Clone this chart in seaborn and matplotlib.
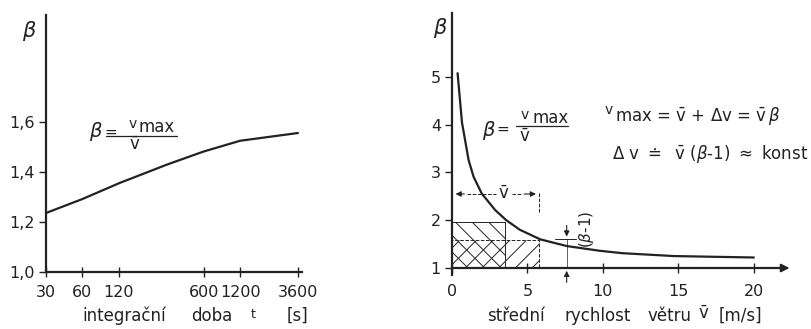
import matplotlib
matplotlib.use("Agg")
import matplotlib.pyplot as plt
import seaborn as sns
from matplotlib.patches import Rectangle
from matplotlib.lines import Line2D
from matplotlib.ticker import FixedLocator, NullLocator

# left panel: gust factor beta vs. integration time t [s]
t_s = [30, 60, 120, 300, 600, 1200, 3600]
beta_t = [1.236, 1.292, 1.355, 1.43, 1.482, 1.525, 1.556]
t_ticks = [30, 60, 120, 600, 1200, 3600]
beta_ticks_left = [1.0, 1.2, 1.4, 1.6]
beta_labels_left = ["1,0", "1,2", "1,4", "1,6"]

# right panel: beta vs. mean wind speed v [m/s]
v_mean = [0.37, 0.66, 1.1, 1.43, 1.97, 2.87, 3.6, 4.5, 5.85, 7.6, 9.8, 11.3, 14.7, 20.0]
beta_v = [5.08, 4.05, 3.26, 2.91, 2.56, 2.21, 2.0, 1.80, 1.6, 1.46, 1.36, 1.31, 1.25, 1.22]
v_ticks = [0, 5, 10, 15, 20]
beta_ticks_right = [1, 2, 3, 4, 5]

# hatched areas: v*beta (tall) and v (wide) for an example speed
rect_tall = (3.48, 1.97)
rect_wide = (5.78, 1.58)

INK = "#222222"
W, H = 812, 329


def fx(px):
    return px / W


def fy(py):
    return 1 - py / H


def ftext(fig, px, py, s, **kw):
    kw.setdefault("ha", "center")
    kw.setdefault("va", "center")
    kw.setdefault("color", INK)
    fig.text(fx(px), fy(py), s, **kw)


def fline(fig, p0, p1, lw=0.9):
    fig.add_artist(Line2D([fx(p0[0]), fx(p1[0])], [fy(p0[1]), fy(p1[1])],
                          transform=fig.transFigure, color=INK, lw=lw))


def style_axes(ax):
    for side in ["top", "right"]:
        ax.spines[side].set_visible(False)
    for side in ["left", "bottom"]:
        ax.spines[side].set_linewidth(1.6)
        ax.spines[side].set_color(INK)
    ax.tick_params(axis="y", direction="out", length=5, width=1, pad=3,
                   labelsize=11.5, colors=INK)
    ax.tick_params(axis="x", direction="inout", length=7, width=1, pad=6,
                   labelsize=11.5, colors=INK)
    ax.set_xlabel("")
    ax.set_ylabel("")


sns.set_theme(style="ticks")
plt.rcParams["font.family"] = ["DejaVu Sans"]
plt.rcParams["mathtext.fontset"] = "dejavusans"
plt.rcParams["hatch.linewidth"] = 0.7

fig = plt.figure(figsize=(W / 100, H / 100), dpi=100)
fig.patch.set_facecolor("white")

# ---- left panel ----
axL = fig.add_axes([fx(46), fy(272), (302 - 46) / W, (272 - 15) / H])
axL.set_facecolor("white")
sns.lineplot(x=t_s, y=beta_t, ax=axL, color=INK, lw=1.6)
axL.set_xscale("log")
axL.set_xlim(30, 3885)
axL.set_ylim(1.0, 2.028)
axL.xaxis.set_major_locator(FixedLocator(t_ticks))
axL.xaxis.set_minor_locator(NullLocator())
axL.set_xticklabels([str(t) for t in t_ticks])
axL.set_yticks(beta_ticks_left)
axL.set_yticklabels(beta_labels_left)
style_axes(axL)

ftext(fig, 29, 31, r"$\beta$", fontsize=15)
ftext(fig, 96, 131, r"$\beta$", fontsize=14)
ftext(fig, 111, 132, "=", fontsize=11)
ftext(fig, 133, 124, "v", fontsize=10)
ftext(fig, 157, 127, "max", fontsize=12)
fline(fig, (106, 136), (177, 136))
ftext(fig, 135, 145, r"$\bar{\mathrm{v}}$", fontsize=12)

for word, cx in [("integrační", 124), ("doba", 212), ("[s]", 297)]:
    ftext(fig, cx, 316, word, fontsize=12)
ftext(fig, 253, 314, "t", fontsize=9)

# ---- right panel ----
axR = fig.add_axes([fx(452), fy(275), (781 - 452) / W, (275 - 13) / H])
axR.set_facecolor("none")
axR.add_patch(Rectangle((0, 1), rect_tall[0], rect_tall[1] - 1, fill=False,
                        hatch="\\\\", ec=INK, lw=0.7))
axR.add_patch(Rectangle((0, 1), rect_wide[0], rect_wide[1] - 1, fill=False,
                        hatch="//", ec=INK, lw=0.7, ls="--"))
sns.lineplot(x=v_mean, y=beta_v, ax=axR, color=INK, lw=1.6)
axR.set_xlim(0, 21.8)
axR.set_ylim(1 - 7 / 47.75, 1 + 255 / 47.75)
axR.spines["bottom"].set_position(("data", 1))
axR.set_xticks(v_ticks)
axR.set_xticklabels([str(v) for v in v_ticks])
axR.set_yticks(beta_ticks_right)
axR.set_yticklabels([str(b) for b in beta_ticks_right])
style_axes(axR)
axR.tick_params(axis="x", pad=8)

# x axis arrow
axR.annotate("", xy=(22.55, 1), xytext=(21.0, 1), annotation_clip=False,
             arrowprops=dict(arrowstyle="-|>", color=INK, lw=1.4, mutation_scale=12))

# mean speed dimension
arr = dict(arrowstyle="-|>", color=INK, lw=0.8, mutation_scale=8)
y_dim = 2.55
axR.annotate("", xy=(0.05, y_dim), xytext=(1.0, y_dim), arrowprops=arr)
axR.plot([1.0, 2.9], [y_dim, y_dim], ls="--", lw=0.7, color=INK)
axR.text(3.45, y_dim, r"$\bar{\mathrm{v}}$", ha="center", va="center", fontsize=12, color=INK)
axR.plot([4.0, 4.6], [y_dim, y_dim], ls="--", lw=0.7, color=INK)
axR.annotate("", xy=(5.75, y_dim), xytext=(4.6, y_dim), arrowprops=arr)
axR.plot([5.78, 5.78], [2.17, 2.6], ls="--", lw=0.7, color=INK)

# (beta-1) dimension
x_dim = 7.6
axR.annotate("", xy=(x_dim, 1.6), xytext=(x_dim, 1.95), arrowprops=arr)
axR.plot([6.85, 8.2], [1.6, 1.6], lw=0.7, color=INK)
axR.plot([x_dim, x_dim], [1.0, 1.6], lw=0.5, color=INK)
axR.annotate("", xy=(x_dim, 1.0), xytext=(x_dim, 0.64), arrowprops=arr,
             annotation_clip=False)
axR.text(8.9, 1.82, r"($\beta$-1)", rotation=90, ha="center", va="center",
         fontsize=11, color=INK)

ftext(fig, 440, 28, r"$\beta$", fontsize=15)
ftext(fig, 489, 130, r"$\beta$", fontsize=14)
ftext(fig, 503, 129, "=", fontsize=11)
ftext(fig, 525, 115, "v", fontsize=10)
ftext(fig, 551, 118, "max", fontsize=12)
fline(fig, (516, 126), (568, 126))
ftext(fig, 525, 137, r"$\bar{\mathrm{v}}$", fontsize=12)

ftext(fig, 609, 110, "v", fontsize=10)
ftext(fig, 615, 116, r"max = $\bar{\mathrm{v}}$ + $\Delta$v = $\bar{\mathrm{v}}\,\beta$",
      fontsize=12, ha="left")
ftext(fig, 612, 154, r"$\Delta$ v $\doteq$  $\bar{\mathrm{v}}$ ($\beta$-1) $\approx$ konst",
      fontsize=12, ha="left")

for word, cx in [("střední", 516), ("rychlost", 598), ("větru", 670), ("[m/s]", 740)]:
    ftext(fig, cx, 316, word, fontsize=12)
ftext(fig, 704, 314, r"$\bar{\mathrm{v}}$", fontsize=12)

fig.savefig("out.png", dpi=100, facecolor="white")
